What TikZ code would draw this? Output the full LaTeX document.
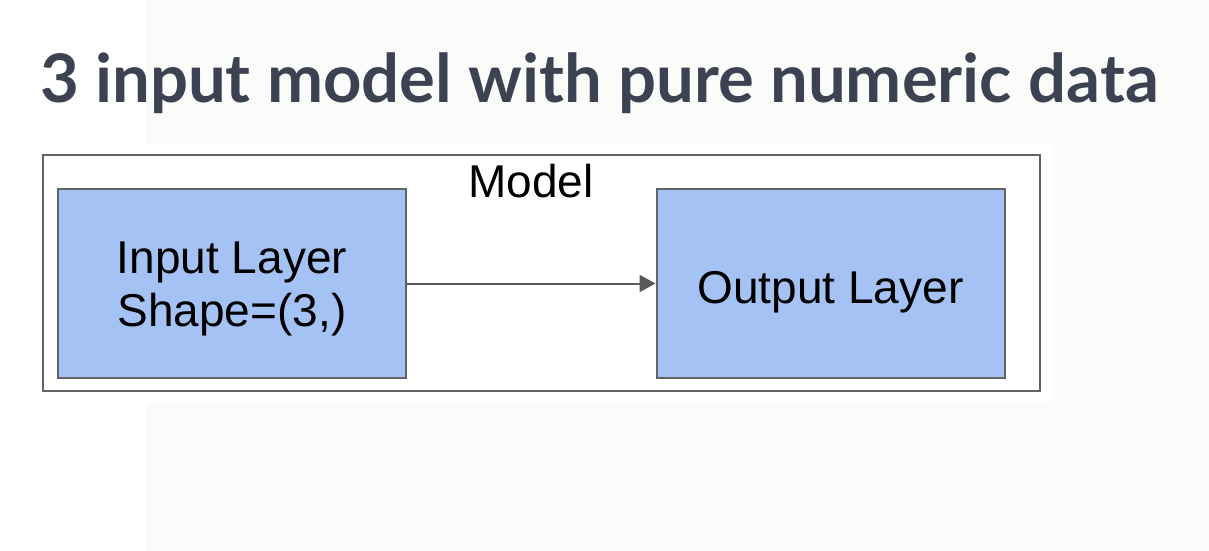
\documentclass[tikz,border=0pt]{standalone}
\usepackage{fontspec}
\setmainfont{Liberation Sans}
\newfontfamily\titlefont{Lato}
\usetikzlibrary{arrows.meta}
\definecolor{pagegrey}{HTML}{FBFBFA}
\definecolor{titlecol}{HTML}{3C4252}
\definecolor{boxfill}{HTML}{A4C2F4}
\definecolor{linecol}{HTML}{626262}
\definecolor{arrowcol}{HTML}{595959}
\tikzset{
  modelbox/.style={draw=linecol, line width=2pt, fill=white, minimum width=997pt, minimum height=236pt, inner sep=0pt},
  layerbox/.style={draw=linecol, line width=2pt, fill=boxfill, minimum width=348pt, minimum height=189pt, inner sep=0pt},
  boxtext/.style={font=\fontsize{46}{53}\selectfont, text=black, inner sep=0pt, align=center},
  flow/.style={draw=arrowcol, line width=2pt, -{Triangle[length=16pt,width=17pt]}},
}
\begin{document}
\begin{tikzpicture}[x=1pt,y=-1pt]
\useasboundingbox (0,0) rectangle (1209,551);
\fill[white] (0,0) rectangle (1209,551);
\fill[pagegrey] (146,0) rectangle (1209,551);
\fill[white] (0,143) rectangle (1052,402);
\node[anchor=base west, inner sep=0pt, text=titlecol, font=\titlefont\bfseries\fontsize{67}{80}\selectfont] (title) at (40,102) {3 input model with pure numeric data};
\node[modelbox] (model) at (541.5,273) {};
\node[boxtext, anchor=base] (modellabel) at (531,197) {Model};
\node[layerbox] (input) at (232,283.5) {};
\node[layerbox] (output) at (830.5,283.5) {};
\node[boxtext, anchor=base] (inputtext) at (232,326) {Input Layer\\Shape=(3,)};
\node[boxtext, anchor=base] (outputtext) at (830.5,303) {Output Layer};
\draw[flow] (input.east) -- (output.west);
\end{tikzpicture}
\end{document}
